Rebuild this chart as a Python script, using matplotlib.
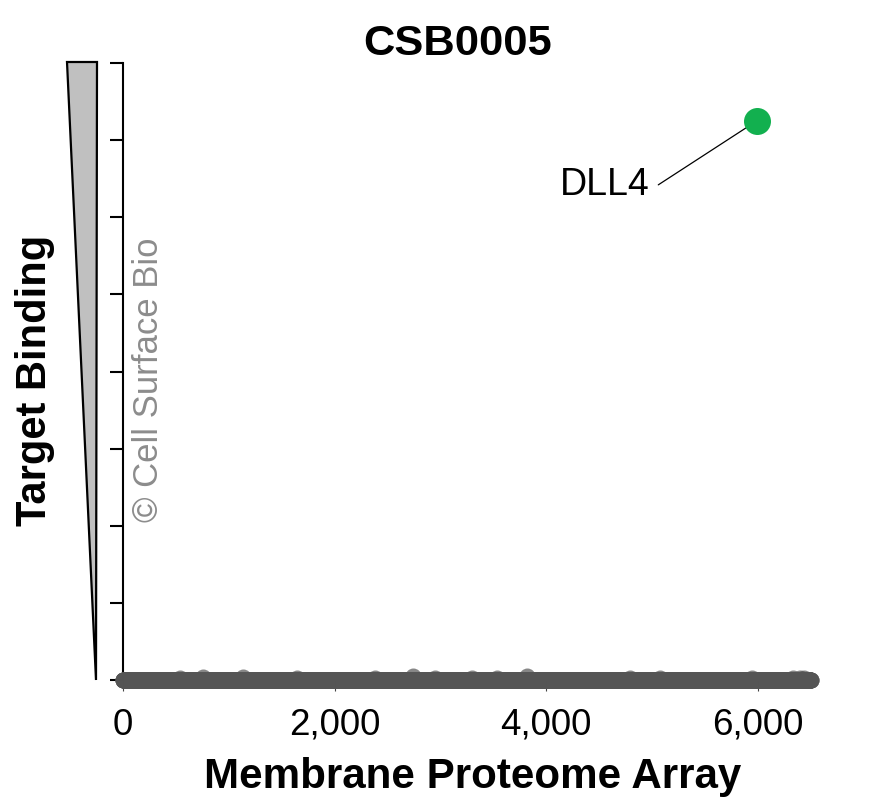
import matplotlib.pyplot as plt
import numpy as np
from matplotlib.patches import Polygon

plt.rcParams['font.family'] = ['Liberation Sans', 'DejaVu Sans']

# membrane proteome array: one spot per protein, nearly all at background
n_proteins = 6500
bump_pos = [539, 756, 1134, 1645, 2382, 2741, 2949, 3299, 3535, 3819,
            4792, 5076, 5945, 6330, 6400, 6440]
bump_val = [0.03, 0.04, 0.045, 0.03, 0.025, 0.055, 0.025, 0.025, 0.03, 0.055,
            0.025, 0.025, 0.025, 0.03, 0.03, 0.025]

hit_name = "DLL4"
hit_x = 5990
hit_y = 7.25

y_ticks = [0, 1, 2, 3, 4, 5, 6, 7, 8]
x_ticks = [0, 2000, 4000, 6000]
x_ticklabels = ["0", "2,000", "4,000", "6,000"]

array_x = np.arange(1, n_proteins + 1)
binding = np.zeros(n_proteins)
binding[np.array(bump_pos) - 1] = bump_val

W, H = 877, 806
fig = plt.figure(figsize=(8.77, 8.06), dpi=100)
ax = fig.add_axes([0.1403, 0.1563, 0.8445, 0.7655])

ax.scatter(array_x, binding, s=133, color='#555555', alpha=0.7,
           linewidths=0, clip_on=False, zorder=3)
ax.scatter([hit_x], [hit_y], s=378, color='#12b04f', linewidths=0,
           clip_on=False, zorder=4)

ax.annotate(hit_name, xy=(hit_x, hit_y), xytext=(4980, 6.42),
            ha='right', va='center', fontsize=27,
            arrowprops=dict(arrowstyle='-', color='black', lw=0.9,
                            shrinkA=4, shrinkB=0,
                            connectionstyle='angle,angleA=0,angleB=33,rad=0'))

ax.set_xlim(0, 7000)
ax.set_ylim(0, 8)
ax.set_yticks(y_ticks)
ax.set_yticklabels([])
ax.set_xticks(x_ticks)
ax.set_xticklabels(x_ticklabels, fontsize=26.5)

for side in ['top', 'right', 'bottom']:
    ax.spines[side].set_visible(False)
ax.spines['left'].set_linewidth(1.5)
ax.tick_params(axis='y', length=9.5, width=1.5, direction='out')
ax.tick_params(axis='x', length=8, width=0.8, color='#444444', pad=12)

# title and axis labels placed in figure pixels
fig.text(458 / W, 1 - 55 / H, "CSB0005", ha='center', va='baseline',
         fontsize=31.3, fontweight='bold')
fig.text(473 / W, 1 - 788 / H, "Membrane Proteome Array", ha='center',
         va='baseline', fontsize=30.3, fontweight='bold')

wedge = Polygon([(67 / W, 1 - 62 / H), (97 / W, 1 - 62 / H), (96 / W, 1 - 680 / H)],
                closed=True, facecolor='#c0c0c0', edgecolor='black', lw=1.6,
                transform=fig.transFigure)
fig.patches.append(wedge)
fig.text(35 / W, 1 - 380 / H, "Target Binding", rotation=90, ha='center',
         va='center', fontsize=30, fontweight='bold')
fig.text(148 / W, 1 - 380 / H, "\u00a9 Cell Surface Bio", rotation=90,
         ha='center', va='center', fontsize=25, color='#8c8c8c')

fig.savefig('out.png', dpi=100)
